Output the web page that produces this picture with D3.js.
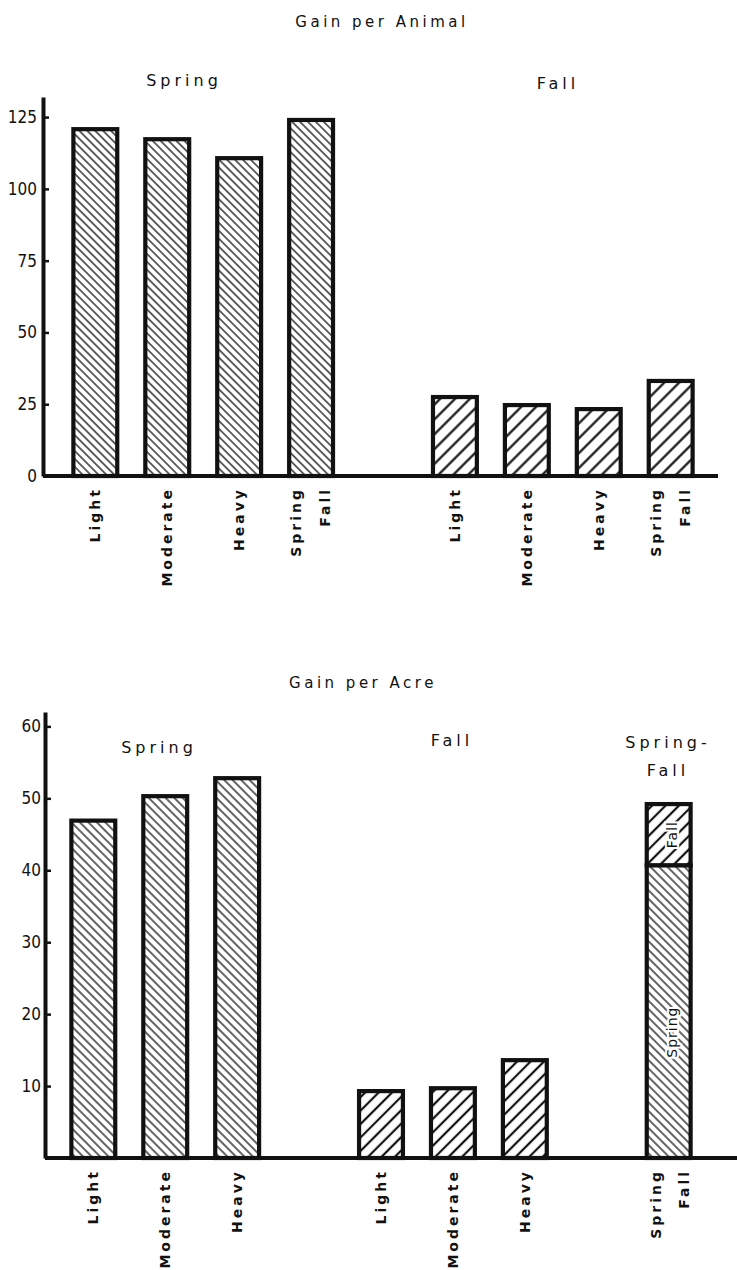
<!DOCTYPE html>
<html>
<head>
<meta charset="utf-8">
<script src="https://cdn.jsdelivr.net/npm/d3@7"></script>
<style>
  body { margin: 0; background: #fff; }
  text { font-family: "DejaVu Sans", sans-serif; fill: #111; }
</style>
</head>
<body>
<div id="chart"></div>
<script>
// treatments, in the order the bars are drawn
var treatments = ["Light", "Moderate", "Heavy", "Spring-Fall"];

// gain per animal
var animalSpring = [120.8, 117.3, 110.7, 124.0];
var animalFall = [27.5, 24.7, 23.3, 33.1];
var animalTicks = [0, 25, 50, 75, 100, 125];

// gain per acre
var acreTreatments = ["Light", "Moderate", "Heavy"];
var acreSpring = [46.9, 50.3, 52.8];
var acreFall = [9.3, 9.7, 13.6];
var acreSpringFall = [40.7, 8.5]; // spring part, fall part stacked on top
var acreTicks = [10, 20, 30, 40, 50, 60];

var W = 737, H = 1270;
var ink = "#111";

var svg = d3.select("#chart")
  .append("svg")
    .attr("width", W)
    .attr("height", H);

// hatch fills
var defs = svg.append("defs");
function hatch(id, gap, angle, sw) {
  var p = defs.append("pattern")
    .attr("id", id)
    .attr("patternUnits", "userSpaceOnUse")
    .attr("width", gap)
    .attr("height", gap)
    .attr("patternTransform", "rotate(" + angle + ")");
  p.append("rect").attr("width", gap).attr("height", gap).attr("fill", "#fff");
  p.append("line")
    .attr("x1", 0).attr("x2", gap)
    .attr("y1", gap / 2).attr("y2", gap / 2)
    .attr("stroke", ink)
    .attr("stroke-width", sw);
}
hatch("springA", 5.6, 45, 1.3);
hatch("fallA", 10.5, -45, 2.2);
hatch("springB", 6, 45, 1.3);
hatch("fallB", 9.5, -45, 2.2);

function styleAxis(g) {
  g.attr("font-family", null).attr("font-size", null);
  g.select(".domain").attr("stroke", ink).attr("stroke-width", 4);
  g.selectAll(".tick line").attr("stroke", ink).attr("stroke-width", 2.5);
  g.selectAll(".tick text")
    .style("font-family", "'Liberation Sans Narrow', 'DejaVu Sans Condensed', 'DejaVu Sans', sans-serif")
    .style("font-size", "17px")
    .style("font-stretch", "condensed")
    .attr("fill", ink);
}

function addText(x, y, str, size, spacing, weight) {
  return svg.append("text")
    .attr("x", x).attr("y", y)
    .attr("text-anchor", "middle")
    .attr("dominant-baseline", "central")
    .style("font-size", size + "px")
    .style("letter-spacing", spacing + "px")
    .style("font-weight", weight || "normal")
    .text(str);
}

// rotated category labels below a baseline
function catLabels(x, base, keys, cls, sfOff) {
  var rows = [];
  keys.forEach(function(k) {
    if (k.indexOf("gap") === 0) return;
    var t = k.split("|").pop();
    if (t === "Spring-Fall") {
      rows.push({key: k, text: "Spring", dx: sfOff[0]});
      rows.push({key: k, text: "Fall", dx: sfOff[1]});
    } else {
      rows.push({key: k, text: t, dx: 0});
    }
  });
  svg.selectAll("." + cls)
    .data(rows)
    .enter()
    .append("text")
      .attr("class", cls)
      .attr("transform", function(d) {
        return "translate(" + (x(d.key) + x.bandwidth() / 2 + d.dx) + "," + (base + 11) + ")rotate(-90)";
      })
      .attr("text-anchor", "end")
      .attr("dominant-baseline", "central")
      .style("font-size", "14px")
      .style("font-weight", "bold")
      .style("letter-spacing", "3px")
      .text(function(d) { return d.text; });
}

// ---------- Gain per Animal ----------
var slots1 = treatments.map(function(t) { return "Spring|" + t; })
  .concat(["gap"])
  .concat(treatments.map(function(t) { return "Fall|" + t; }));

var x1 = d3.scaleBand()
  .domain(slots1)
  .range([59, 707])
  .paddingInner(0.39)
  .paddingOuter(0.2);

var y1 = d3.scaleLinear()
  .domain([0, 132])
  .range([476, 97]);

var bars1 = treatments.map(function(t, i) {
  return {key: "Spring|" + t, v0: 0, v1: animalSpring[i], fill: "url(#springA)"};
}).concat(treatments.map(function(t, i) {
  return {key: "Fall|" + t, v0: 0, v1: animalFall[i], fill: "url(#fallA)"};
}));

svg.selectAll(".bar1")
  .data(bars1)
  .enter()
  .append("rect")
    .attr("class", "bar1")
    .attr("x", function(d) { return x1(d.key); })
    .attr("width", x1.bandwidth())
    .attr("y", function(d) { return y1(d.v1); })
    .attr("height", function(d) { return y1(d.v0) - y1(d.v1); })
    .attr("fill", function(d) { return d.fill; })
    .attr("stroke", ink)
    .attr("stroke-width", 4.2);

var gy1 = svg.append("g")
  .attr("transform", "translate(43,0)")
  .call(d3.axisLeft(y1).tickValues(animalTicks).tickSizeInner(-6).tickSizeOuter(0).tickPadding(6));
styleAxis(gy1);

svg.append("line")
  .attr("x1", 43).attr("x2", 718)
  .attr("y1", y1(0)).attr("y2", y1(0))
  .attr("stroke", ink)
  .attr("stroke-width", 4);

catLabels(x1, y1(0), slots1, "lab1", [-15, 14]);

addText(382, 22, "Gain  per Animal", 15, 3.5);
addText(184, 80, "Spring", 16, 4);
addText(558, 83, "Fall", 16, 4);

// ---------- Gain per Acre ----------
var slots2 = acreTreatments.map(function(t) { return "Spring|" + t; })
  .concat(["gap1"])
  .concat(acreTreatments.map(function(t) { return "Fall|" + t; }))
  .concat(["gap2", "Spring-Fall"]);

var x2 = d3.scaleBand()
  .domain(slots2)
  .range([57, 705])
  .paddingInner(0.39)
  .paddingOuter(0.2);

var y2 = d3.scaleLinear()
  .domain([0, 62])
  .range([1158, 712]);

var bars2 = acreTreatments.map(function(t, i) {
  return {key: "Spring|" + t, v0: 0, v1: acreSpring[i], fill: "url(#springB)"};
}).concat(acreTreatments.map(function(t, i) {
  return {key: "Fall|" + t, v0: 0, v1: acreFall[i], fill: "url(#fallB)"};
})).concat([
  {key: "Spring-Fall", v0: 0, v1: acreSpringFall[0], fill: "url(#springB)"},
  {key: "Spring-Fall", v0: acreSpringFall[0], v1: acreSpringFall[0] + acreSpringFall[1], fill: "url(#fallB)"}
]);

svg.selectAll(".bar2")
  .data(bars2)
  .enter()
  .append("rect")
    .attr("class", "bar2")
    .attr("x", function(d) { return x2(d.key); })
    .attr("width", x2.bandwidth())
    .attr("y", function(d) { return y2(d.v1); })
    .attr("height", function(d) { return y2(d.v0) - y2(d.v1); })
    .attr("fill", function(d) { return d.fill; })
    .attr("stroke", ink)
    .attr("stroke-width", 4.2);

// labels written inside the stacked bar
var sfx = x2("Spring-Fall") + x2.bandwidth() / 2 + 3;
[
  {text: "Fall", v: acreSpringFall[0] + acreSpringFall[1] / 2},
  {text: "Spring", v: acreSpringFall[0] * 0.43}
].forEach(function(d) {
  svg.append("text")
    .attr("transform", "translate(" + sfx + "," + y2(d.v) + ")rotate(-90)")
    .attr("text-anchor", "middle")
    .attr("dominant-baseline", "central")
    .style("font-size", "14px")
    .style("letter-spacing", "1px")
    .style("paint-order", "stroke")
    .attr("stroke", "#fff")
    .attr("stroke-width", 4)
    .text(d.text);
});

var gy2 = svg.append("g")
  .attr("transform", "translate(45,0)")
  .call(d3.axisLeft(y2).tickValues(acreTicks).tickSizeInner(-6).tickSizeOuter(0).tickPadding(4));
styleAxis(gy2);

svg.append("line")
  .attr("x1", 45).attr("x2", 737)
  .attr("y1", y2(0)).attr("y2", y2(0))
  .attr("stroke", ink)
  .attr("stroke-width", 4);

catLabels(x2, y2(0), slots2, "lab2", [-13, 15]);

addText(363, 683, "Gain per Acre", 15, 3.5);
addText(159, 747, "Spring", 16, 4);
addText(452, 740, "Fall", 16, 4);
addText(668, 742, "Spring-", 16, 4);
addText(668, 770, "Fall", 16, 4);
</script>
</body>
</html>
